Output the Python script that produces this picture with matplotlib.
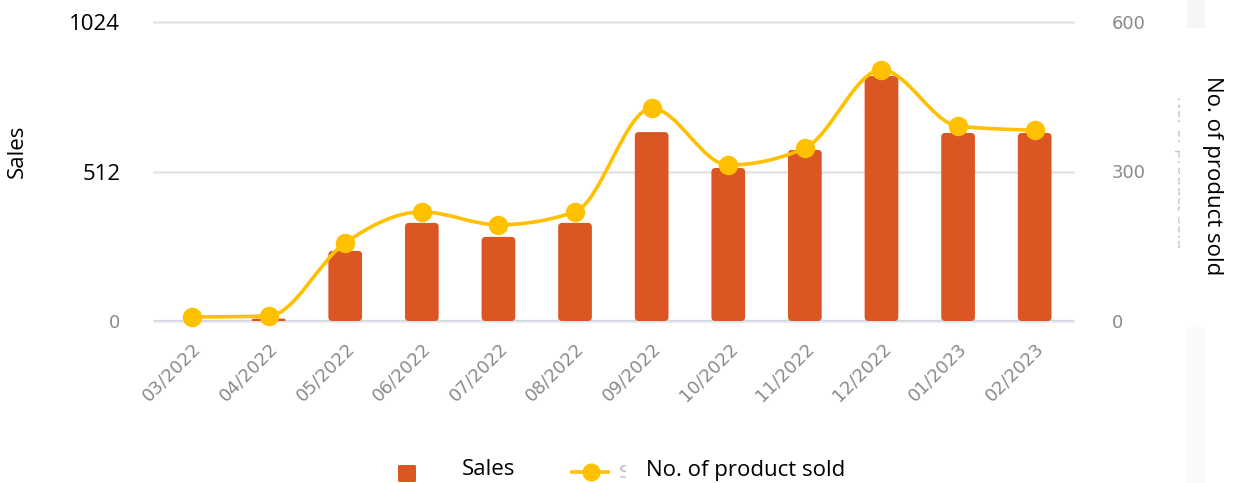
import numpy as np
import matplotlib
matplotlib.use("Agg")
import matplotlib.pyplot as plt
from matplotlib.patches import FancyBboxPatch, Rectangle, PathPatch
from matplotlib.path import Path
from matplotlib.lines import Line2D
from matplotlib.transforms import Bbox, TransformedBbox

# ---- data -------------------------------------------------------------
months = ["03/2022", "04/2022", "05/2022", "06/2022", "07/2022", "08/2022",
          "09/2022", "10/2022", "11/2022", "12/2022", "01/2023", "02/2023"]
sales = [0, 8, 240, 336, 288, 336, 647, 524, 586, 839, 644, 644]
sold = [8, 10, 157, 219, 193, 219, 427, 313, 347, 504, 391, 383]

sales_ticks = [0, 512, 1024]
sales_tick_labels = ["0", "512", "1024"]
sold_ticks = [0, 300, 600]
sold_tick_labels = ["0", "300", "600"]

BAR_COLOR = "#DC5623"
LINE_COLOR = "#FFC000"
GRAY = "#8a8a8a"
TICK_SIZE = 13

W, H, DPI = 1236, 483, 100


def fx(px):
    return px / W


def fy(py):
    return 1 - py / H


fig = plt.figure(figsize=(W / DPI, H / DPI), dpi=DPI)
ax_left_px, ax_right_px, ax_top_px, ax_bot_px = 153.7, 1073.0, 22.0, 321.0
ax = fig.add_axes([fx(ax_left_px), fy(ax_bot_px),
                   (ax_right_px - ax_left_px) / W, (ax_bot_px - ax_top_px) / H])
ax2 = ax.twinx()

x = np.arange(len(months))
ax.set_xlim(-0.5, len(months) - 0.5)
ax.set_ylim(0, 1024)
ax2.set_ylim(0, 600)

# ---- bars with rounded corners -----------------------------------------
ax_w_px = ax_right_px - ax_left_px
ax_h_px = ax_bot_px - ax_top_px
x_per_px = (len(months)) / ax_w_px
y_per_px = 1024 / ax_h_px
aspect = y_per_px / x_per_px
radius = 4 * x_per_px

bars = ax.bar(x, sales, width=0.44, color=BAR_COLOR)
for rect in bars.patches:
    x0, y0 = rect.get_x(), rect.get_y()
    w, h = rect.get_width(), rect.get_height()
    rect.set_visible(False)
    if h <= 0:
        continue
    r = min(radius, w / 2, h / aspect / 2)
    ax.add_patch(FancyBboxPatch((x0, y0), w, h,
                                boxstyle=f"round,pad=0,rounding_size={r}",
                                mutation_aspect=aspect,
                                facecolor=BAR_COLOR, edgecolor="none", zorder=2))

# ---- smooth monotone curve through the counts ---------------------------
def monotone_path(xs, ys):
    xs = np.asarray(xs, float)
    ys = np.asarray(ys, float)
    n = len(xs)
    h = np.diff(xs)
    s = np.diff(ys) / h
    sgn = lambda v: -1.0 if v < 0 else 1.0
    t = np.zeros(n)
    for i in range(1, n - 1):
        p = (s[i - 1] * h[i] + s[i] * h[i - 1]) / (h[i - 1] + h[i])
        t[i] = (sgn(s[i - 1]) + sgn(s[i])) * min(abs(s[i - 1]), abs(s[i]), 0.5 * abs(p))
    t[0] = (3 * s[0] - t[1]) / 2
    t[-1] = (3 * s[-1] - t[-2]) / 2
    verts = [(xs[0], ys[0])]
    codes = [Path.MOVETO]
    for i in range(n - 1):
        d = h[i] / 3
        verts += [(xs[i] + d, ys[i] + d * t[i]),
                  (xs[i + 1] - d, ys[i + 1] - d * t[i + 1]),
                  (xs[i + 1], ys[i + 1])]
        codes += [Path.CURVE4] * 3
    return Path(verts, codes)


ax2.add_patch(PathPatch(monotone_path(x, sold), fill=False, edgecolor=LINE_COLOR,
                        lw=2.6, capstyle="round", joinstyle="round", zorder=3))
ax2.plot(x, sold, "o", ms=13, color=LINE_COLOR, zorder=4, clip_on=False)

# ---- axes styling --------------------------------------------------------
for a in (ax, ax2):
    for sp in a.spines.values():
        sp.set_visible(False)

ax.set_yticks(sales_ticks, labels=sales_tick_labels)
ax.tick_params(axis="y", length=0, pad=24)
for lab in ax.get_yticklabels():
    if lab.get_text() == "0":
        lab.set_fontfamily("DejaVu Sans")
        lab.set_fontsize(TICK_SIZE)
        lab.set_color(GRAY)
    else:
        lab.set_fontfamily("Open Sans")
        lab.set_fontsize(16)
        lab.set_color("black")

ax.grid(axis="y", color="#e4e4e4", lw=1.8)
ax.grid(axis="x", visible=False)
for gl in ax.get_ygridlines():
    gl.set_clip_on(False)
ax.set_axisbelow(True)
ax.axhline(0, color="#ccd4e6", lw=1.6, zorder=1.5)

ax2.set_yticks(sold_ticks, labels=sold_tick_labels)
ax2.tick_params(axis="y", length=0, pad=28, labelcolor=GRAY, labelsize=TICK_SIZE)

ax.set_xticks(x, labels=months, rotation=45, ha="right", rotation_mode="anchor")
ax.tick_params(axis="x", length=0, pad=13, labelcolor=GRAY, labelsize=TICK_SIZE)

# ---- axis titles ---------------------------------------------------------
fig.text(fx(17), fy(151), "Sales", rotation=90, ha="center", va="center",
         fontsize=16, family="Open Sans", color="black")
fig.text(fx(1213), fy(176), "No. of product sold", rotation=-90, ha="center",
         va="center", fontsize=16, family="Open Sans", color="black")

faint = fig.text(fx(1182), fy(172), "No. of product sold", rotation=-90,
                 ha="center", va="center", fontsize=11.5, color="#c4c4c4")
faint.set_clip_box(TransformedBbox(Bbox([[fx(1160), 0], [fx(1180), 1]]),
                                   fig.transFigure))
faint.set_clip_on(True)

fig.add_artist(Rectangle((fx(1187), fy(28)), fx(18), 28 / H,
                         transform=fig.transFigure, facecolor="#f6f6f6",
                         edgecolor="none", zorder=0))
fig.add_artist(Rectangle((fx(1186), 0), fx(19), (H - 327) / H,
                         transform=fig.transFigure, facecolor="#fafafa",
                         edgecolor="none", zorder=0))

# ---- legend --------------------------------------------------------------
fig.add_artist(FancyBboxPatch((fx(398), fy(482)), fx(18), 17 / H,
                              boxstyle="round,pad=0,rounding_size=0.002",
                              transform=fig.transFigure, facecolor=BAR_COLOR,
                              edgecolor="none"))
fig.text(fx(462), fy(475), "Sales", ha="left", va="baseline", fontsize=16,
         family="Open Sans", color="black")
fig.add_artist(Line2D([fx(572), fx(608)], [fy(472), fy(472)],
                      transform=fig.transFigure, color=LINE_COLOR, lw=2.6))
fig.add_artist(Line2D([fx(591)], [fy(472)], transform=fig.transFigure,
                      marker="o", ms=12, color=LINE_COLOR, lw=0))
ghost = fig.text(fx(619), fy(478), "S", ha="left", va="baseline",
                 fontsize=TICK_SIZE, color="#bdbdbd")
ghost.set_clip_box(TransformedBbox(Bbox([[fx(610), 0], [fx(626), 1]]),
                                   fig.transFigure))
ghost.set_clip_on(True)
fig.text(fx(646), fy(476), "No. of product sold", ha="left", va="baseline",
         fontsize=16, family="Open Sans", color="black")

fig.savefig("out.png", dpi=DPI)
